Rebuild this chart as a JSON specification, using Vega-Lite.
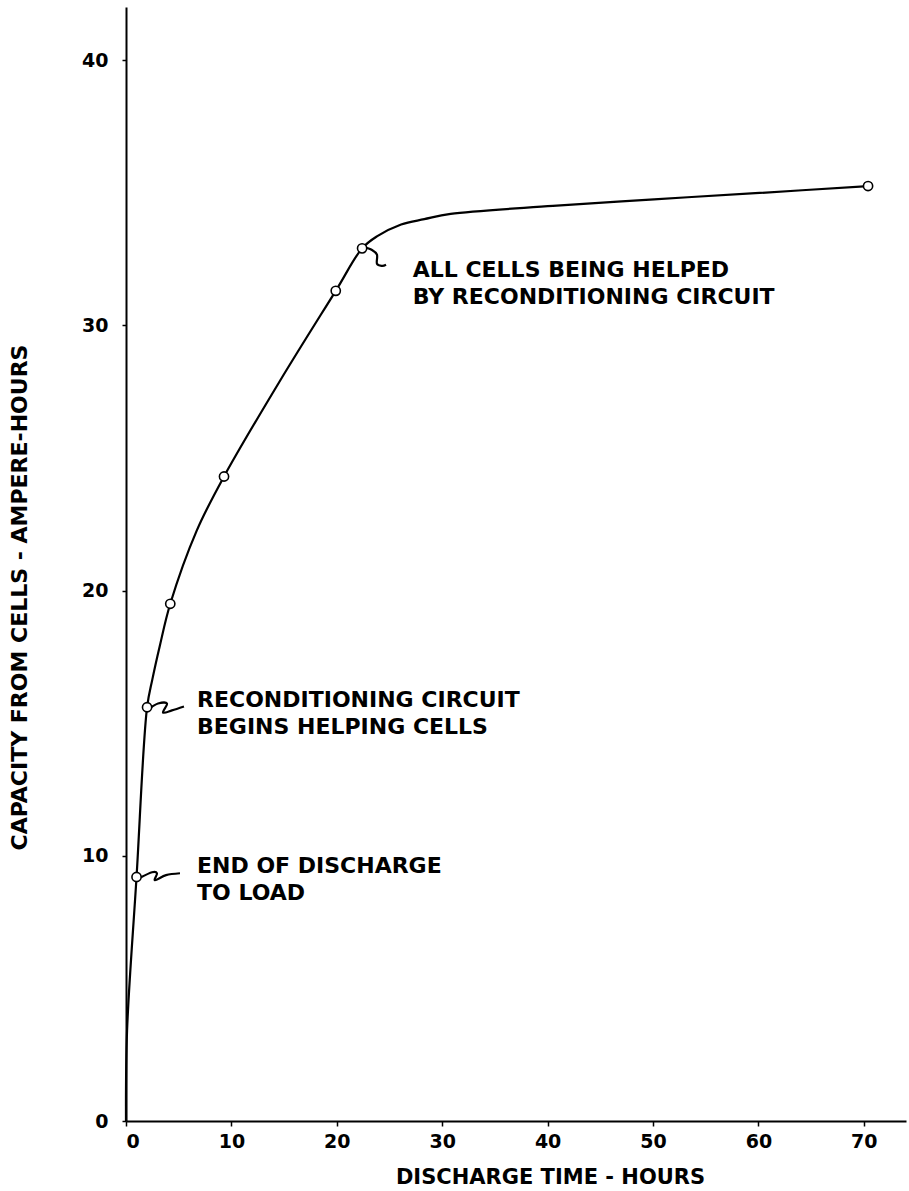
{
  "$schema": "https://vega.github.io/schema/vega-lite/v6.json",
  "width": 780,
  "height": 1114,
  "autosize": {"type": "none"},
  "padding": {"left": 126, "top": 7, "right": 3, "bottom": 70},
  "background": "white",
  "config": {
    "view": {"stroke": null},
    "font": "DejaVu Sans",
    "axis": {
      "grid": false,
      "domainColor": "black",
      "domainWidth": 2,
      "tickColor": "black",
      "tickWidth": 1.5,
      "labelFont": "DejaVu Sans",
      "labelFontWeight": "bold",
      "labelFontSize": 19,
      "labelColor": "black",
      "titleFont": "DejaVu Sans",
      "titleFontWeight": "bold",
      "titleColor": "black"
    }
  },
  "datasets": {
    "curve": [
      {"x": 0, "y": 0},
      {"x": 0.1, "y": 3.4},
      {"x": 1.0, "y": 9.2},
      {"x": 2.0, "y": 15.6},
      {"x": 2.5, "y": 16.65},
      {"x": 3.2, "y": 17.9},
      {"x": 4.2, "y": 19.5},
      {"x": 6.7, "y": 22.25},
      {"x": 9.3, "y": 24.3},
      {"x": 14.6, "y": 27.9},
      {"x": 19.9, "y": 31.3},
      {"x": 22.4, "y": 32.9},
      {"x": 23.8, "y": 33.35},
      {"x": 26.1, "y": 33.8},
      {"x": 28.3, "y": 34.0},
      {"x": 30.8, "y": 34.2},
      {"x": 40.5, "y": 34.5},
      {"x": 50.1, "y": 34.75},
      {"x": 59.7, "y": 34.98},
      {"x": 70.4, "y": 35.25}
    ],
    "pts": [
      {"x": 1.0, "y": 9.2},
      {"x": 2.0, "y": 15.6},
      {"x": 4.2, "y": 19.5},
      {"x": 9.3, "y": 24.3},
      {"x": 19.9, "y": 31.3},
      {"x": 22.4, "y": 32.9},
      {"x": 70.4, "y": 35.25}
    ],
    "leaders": [
      {"g": "a", "i": 1, "x": 1.42, "y": 9.19},
      {"g": "a", "i": 2, "x": 2.47, "y": 9.38},
      {"g": "a", "i": 3, "x": 2.94, "y": 9.34},
      {"g": "a", "i": 4, "x": 2.75, "y": 9.08},
      {"g": "a", "i": 5, "x": 3.8, "y": 9.27},
      {"g": "a", "i": 6, "x": 5.12, "y": 9.34},
      {"g": "b", "i": 1, "x": 2.28, "y": 15.56},
      {"g": "b", "i": 2, "x": 3.04, "y": 15.74},
      {"g": "b", "i": 3, "x": 3.89, "y": 15.74},
      {"g": "b", "i": 4, "x": 3.51, "y": 15.4},
      {"g": "b", "i": 5, "x": 4.36, "y": 15.48},
      {"g": "b", "i": 6, "x": 5.5, "y": 15.63},
      {"g": "c", "i": 1, "x": 22.5, "y": 32.96},
      {"g": "c", "i": 2, "x": 23.34, "y": 32.84},
      {"g": "c", "i": 3, "x": 23.81, "y": 32.66},
      {"g": "c", "i": 4, "x": 23.81, "y": 32.32},
      {"g": "c", "i": 5, "x": 24.29, "y": 32.24},
      {"g": "c", "i": 6, "x": 24.67, "y": 32.28}
    ],
    "notes": [
      {"x": 6.74, "y": 9.35, "label": "END OF DISCHARGE\nTO LOAD"},
      {"x": 6.74, "y": 15.61, "label": "RECONDITIONING CIRCUIT\nBEGINS HELPING CELLS"},
      {"x": 27.2, "y": 31.83, "label": "ALL CELLS BEING HELPED\nBY RECONDITIONING CIRCUIT"}
    ]
  },
  "encoding": {
    "x": {
      "field": "x",
      "type": "quantitative",
      "scale": {"domain": [0, 74], "nice": false, "zero": false},
      "axis": {
        "values": [0, 10, 20, 30, 40, 50, 60, 70],
        "tickSize": 5,
        "labelPadding": 6,
        "title": "DISCHARGE TIME - HOURS",
        "titleFontSize": 21,
        "titleX": 424,
        "titleY": 62,
        "titleAlign": "center",
        "titleBaseline": "alphabetic"
      }
    },
    "y": {
      "field": "y",
      "type": "quantitative",
      "scale": {"domain": [0, 42], "nice": false, "zero": false},
      "axis": {
        "values": [0, 10, 20, 30, 40],
        "tickSize": 4,
        "labelPadding": 14,
        "title": "CAPACITY FROM CELLS - AMPERE-HOURS",
        "titleFontSize": 22,
        "titleAngle": -90,
        "titleX": -100,
        "titleY": 590,
        "titleAlign": "center",
        "titleBaseline": "alphabetic"
      }
    }
  },
  "layer": [
    {
      "data": {"name": "curve"},
      "mark": {"type": "line", "interpolate": "catmull-rom", "color": "black", "strokeWidth": 2.2}
    },
    {
      "data": {"name": "leaders"},
      "mark": {"type": "line", "interpolate": "cardinal", "color": "black", "strokeWidth": 2.2},
      "encoding": {
        "detail": {"field": "g", "type": "nominal"},
        "order": {"field": "i", "type": "quantitative"}
      }
    },
    {
      "data": {"name": "pts"},
      "mark": {"type": "point", "shape": "circle", "filled": true, "fill": "white", "stroke": "black", "strokeWidth": 1.6, "size": 85, "opacity": 1}
    },
    {
      "data": {"name": "notes"},
      "mark": {"type": "text", "align": "left", "baseline": "alphabetic", "lineBreak": "\n", "lineHeight": 27, "font": "DejaVu Sans", "fontWeight": "bold", "fontSize": 22, "color": "black"},
      "encoding": {"text": {"field": "label", "type": "nominal"}}
    }
  ]
}
